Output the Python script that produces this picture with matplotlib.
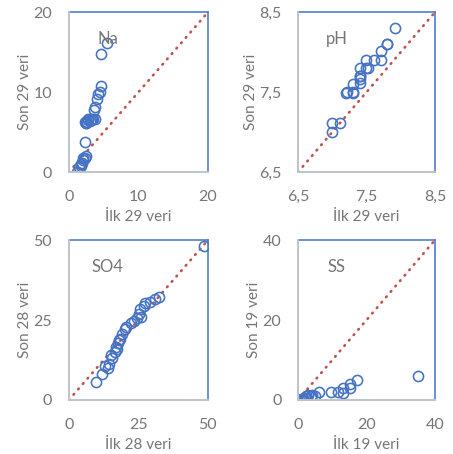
import matplotlib.pyplot as plt

plt.rcParams['font.family'] = ['Lato', 'DejaVu Sans']

# Na
na_ilk = [5.55, 4.64, 4.69, 4.45, 4.26, 4.07, 3.73, 3.64, 3.73, 3.5, 3.2, 3.0, 2.8, 2.6, 2.5, 2.4,
          2.3, 2.7, 2.35, 2.44, 2.3, 2.0, 1.9, 1.8, 1.7, 1.4, 1.2, 2.1, 3.3]
na_son = [16.2, 14.75, 10.8, 10.0, 9.8, 9.1, 8.1, 7.75, 6.7, 6.6, 6.5, 6.4, 6.5, 6.3, 6.2, 6.1,
          6.3, 6.6, 3.8, 2.0, 1.8, 1.5, 1.1, 0.95, 0.8, 0.6, 0.0, 1.7, 6.6]

# pH
ph_ilk = [7.92, 7.80, 7.71, 7.71, 7.61, 7.49, 7.52, 7.40, 7.40, 7.40, 7.40, 7.30, 7.20, 7.30,
          7.00, 7.11, 7.00, 7.80, 7.50, 7.41, 7.30, 7.21]
ph_son = [8.30, 8.10, 8.01, 7.90, 7.90, 7.90, 7.80, 7.80, 7.70, 7.66, 7.61, 7.60, 7.49, 7.49,
          7.11, 7.11, 7.00, 8.10, 7.80, 7.70, 7.50, 7.50]

# SO4
so4_ilk = [48.6, 32.4, 31.1, 29.3, 27.2, 27.0, 25.7, 25.2, 24.5, 23.3, 20.6, 20.2, 19.0, 18.4,
           17.8, 17.2, 16.6, 15.4, 14.6, 13.9, 11.8, 9.6, 18.0, 17.0, 22.5, 26.0, 15.0, 13.0]
so4_son = [48.1, 32.1, 31.5, 30.8, 30.2, 29.5, 28.4, 26.8, 25.6, 24.7, 22.7, 22.3, 20.5, 19.2,
           17.9, 15.8, 15.1, 13.2, 11.1, 9.9, 8.0, 5.7, 18.8, 16.5, 24.0, 26.0, 14.0, 10.5]

# SS
ss_ilk = [35.0, 17.2, 15.1, 15.1, 13.0, 13.0, 11.6, 9.7, 6.0, 5.0, 3.8, 2.3, 2.0, 1.2, 1.8,
          2.8, 4.2, 0.8, 2.5]
ss_son = [5.9, 5.0, 4.0, 2.9, 2.9, 1.8, 2.0, 2.0, 2.0, 1.0, 1.0, 1.0, 0.6, 0.0, 0.0,
          1.2, 1.3, 0.3, 0.4]

paneller = [
    ("Na", na_ilk, na_son, 0, 20, [0, 10, 20], ["0", "10", "20"], "İlk 29 veri", "Son 29 veri"),
    ("pH", ph_ilk, ph_son, 6.5, 8.5, [6.5, 7.5, 8.5], ["6,5", "7,5", "8,5"], "İlk 29 veri", "Son 29 veri"),
    ("SO4", so4_ilk, so4_son, 0, 50, [0, 25, 50], ["0", "25", "50"], "İlk 28 veri", "Son 28 veri"),
    ("SS", ss_ilk, ss_son, 0, 40, [0, 20, 40], ["0", "20", "40"], "İlk 19 veri", "Son 19 veri"),
]

konumlar = [
    [0.152, 0.621, 0.307, 0.352],
    [0.658, 0.621, 0.302, 0.352],
    [0.152, 0.119, 0.307, 0.352],
    [0.658, 0.119, 0.302, 0.352],
]

gri = "#767676"
mavi = "#4472C4"
kirmizi = "#C0504D"

fig = plt.figure(figsize=(4.53, 4.54), dpi=100)

for (ad, x, y, lo, hi, ticks, etiketler, xlab, ylab), pos in zip(paneller, konumlar):
    ax = fig.add_axes(pos)
    # noktali esitlik cizgisi
    ax.plot([lo, hi], [lo, hi], color=kirmizi, linestyle=(0, (0.3, 2.4)),
            linewidth=1.9, dash_capstyle="round", zorder=2)
    ax.plot(x, y, "o", markerfacecolor="none", markeredgecolor=mavi,
            markersize=7.3, markeredgewidth=1.15, zorder=3)
    ax.set_xlim(lo, hi)
    ax.set_ylim(lo, hi)
    ax.set_xticks(ticks)
    ax.set_xticklabels(etiketler)
    ax.set_yticks(ticks)
    ax.set_yticklabels(etiketler)
    ax.tick_params(length=0, labelsize=11.5, colors=gri)
    ax.tick_params(axis="y", pad=12)
    ax.tick_params(axis="x", pad=13)
    ax.set_xlabel(xlab, fontsize=11, color=gri, labelpad=4)
    ax.set_ylabel(ylab, fontsize=11, color=gri, labelpad=1)
    for s in ["top", "right"]:
        ax.spines[s].set_color(mavi)
        ax.spines[s].set_linewidth(1.1)
    for s in ["left", "bottom"]:
        ax.spines[s].set_color("#BFC3CC")
        ax.spines[s].set_linewidth(1.4)
        ax.spines[s].set_zorder(4)
    ax.text(0.28, 0.83, ad, transform=ax.transAxes, fontsize=12, color=gri,
            ha="center", va="center")

fig.savefig("out.png", dpi=100)
